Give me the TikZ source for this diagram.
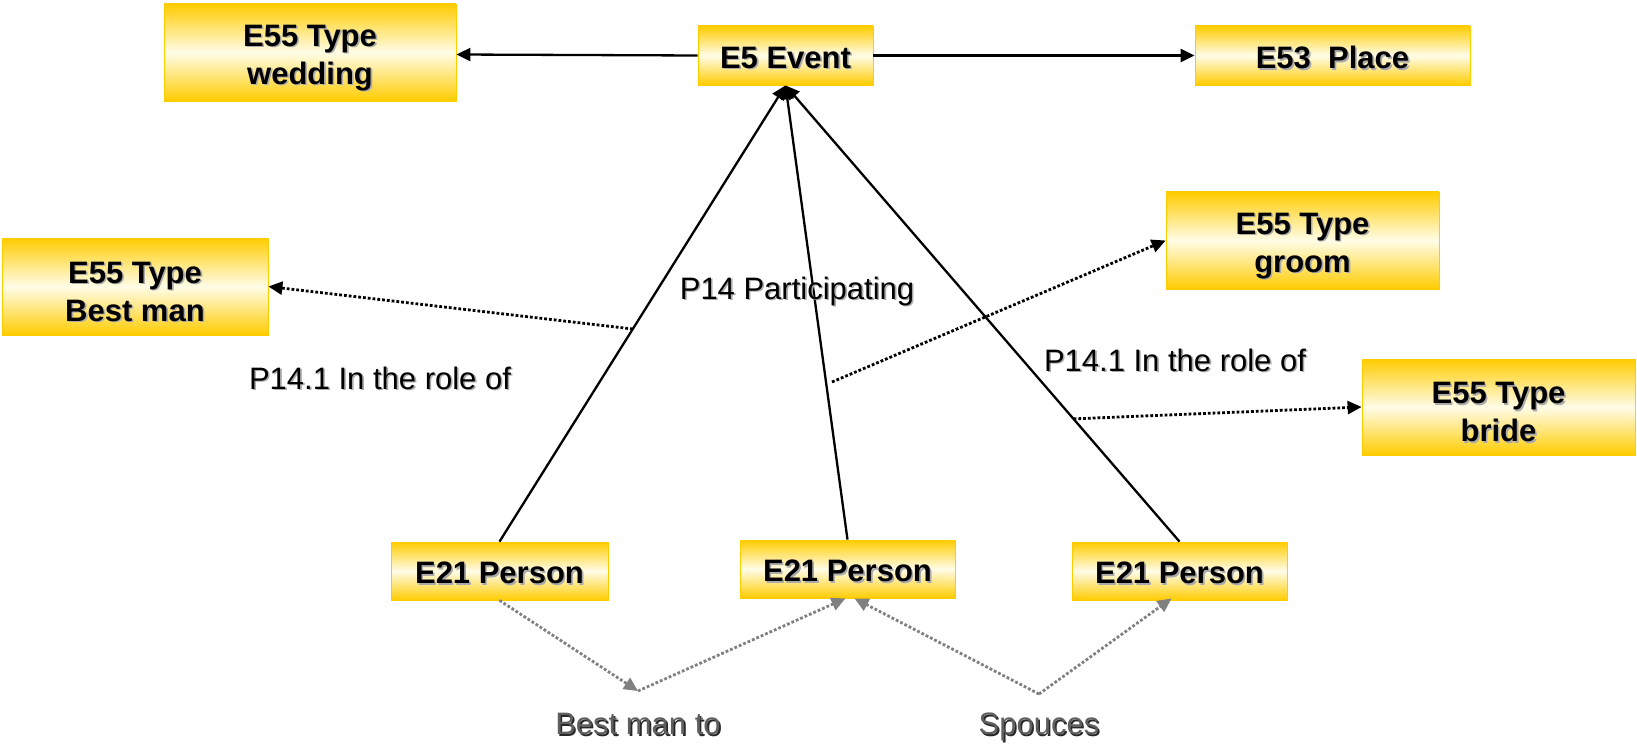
\documentclass[tikz,border=0pt]{standalone}
\usepackage{fontspec}
\setmainfont{Liberation Sans}
\usetikzlibrary{arrows.meta,calc}
\definecolor{gold}{RGB}{255,204,0}
\definecolor{paleband}{RGB}{255,252,232}
\definecolor{shadowgray}{RGB}{170,170,170}
\definecolor{linkgray}{RGB}{128,128,128}
\definecolor{labelgray}{RGB}{95,95,95}
\definecolor{darkshadow}{RGB}{40,40,40}
% text with a soft drop shadow, dropped by the optional amount
\newcommand{\shd}[2][3pt]{\leavevmode\raisebox{-#1}[\height][\depth]{%
  \rlap{\kern1.6pt\raisebox{-1.6pt}{\textcolor{shadowgray}{#2}}}#2}}
% grey text with a dark drop shadow
\newcommand{\gshd}[1]{\leavevmode\raisebox{-2pt}[\height][\depth]{%
  \rlap{\kern1.6pt\raisebox{-1.6pt}{\textcolor{darkshadow}{#1}}}\textcolor{labelgray}{#1}}}
\begin{document}
\begin{tikzpicture}[x=1pt,y=-1pt,
  entity/.style={draw=gold,line width=0.8pt,top color=gold,bottom color=gold,
    middle color=paleband,shading angle=0,align=center,inner sep=0pt,
    font=\fontsize{31}{38}\selectfont\bfseries},
  rel/.style={line width=2.3pt,-{Triangle[length=14pt,width=13pt]}},
  role/.style={line width=2.8pt,dotted,-{Triangle[length=14pt,width=13pt]}},
  link/.style={line width=2.8pt,dotted,draw=linkgray,
    -{Triangle[length=14pt,width=13pt,fill=linkgray]}},
  lbl/.style={font=\fontsize{31}{37}\selectfont,inner sep=0pt}]
\useasboundingbox (0,0) rectangle (1637,746);

% entities
\node[entity,minimum width=292pt,minimum height=97pt] (wedding) at (310,52.5) {\shd[6pt]{E55 Type}\\\shd[6pt]{wedding}};
\node[entity,minimum width=175pt,minimum height=59pt] (event) at (785.5,55.5) {\shd{E5 Event}};
\node[entity,minimum width=275pt,minimum height=59pt] (place) at (1332.5,55.5) {\shd{E53~~Place}};
\node[entity,minimum width=266pt,minimum height=97pt] (bestman) at (135,286.5) {\shd[6pt]{E55 Type}\\\shd[6pt]{Best man}};
\node[entity,minimum width=273pt,minimum height=97pt] (groom) at (1302.5,240.5) {\shd[6pt]{E55 Type}\\\shd[6pt]{groom}};
\node[entity,minimum width=273pt,minimum height=96pt] (bride) at (1498.5,407) {\shd[6pt]{E55 Type}\\\shd[6pt]{bride}};
\node[entity,minimum width=217pt,minimum height=58pt] (p1) at (499.5,571) {\shd{E21 Person}};
\node[entity,minimum width=215pt,minimum height=58pt] (p2) at (847.5,569) {\shd{E21 Person}};
\node[entity,minimum width=215pt,minimum height=58pt] (p3) at (1179.5,571) {\shd{E21 Person}};

% event links
\draw[rel] (event.west) -- ([yshift=-2pt]wedding.east);
\draw[rel] (event.east) -- (place.west);
\draw[rel] (p1.north) -- (event.south);
\draw[rel] (p2.north) -- (event.south);
\draw[rel] (p3.north) -- (event.south);

% role links starting from the participation lines
\coordinate (r1) at ($(p1.north)!0.466!(event.south)$);
\coordinate (r2) at ($(p2.north)!0.347!(event.south)+(6,0)$);
\coordinate (r3) at ($(p3.north)!0.269!(event.south)$);
\draw[role] (r1) -- (bestman.east);
\draw[role] (r2) -- (groom.west);
\draw[role] (r3) -- (bride.west);

% person-to-person links
\coordinate (bm) at (638,691);
\coordinate (sp) at (1039,694);
\draw[link] (p1.south) -- (bm);
\draw[link] (bm) -- ([xshift=-2pt]p2.south);
\draw[link] (sp) -- ([xshift=7pt]p2.south);
\draw[link] (sp) -- ([xshift=-8pt,yshift=2pt]p3.south);

% labels
\node[lbl] (lpart) at (797,292) {\shd[0pt]{P14 Participating}};
\node[lbl] (lrole1) at (380,379) {\shd[0pt]{P14.1 In the role of}};
\node[lbl] (lrole2) at (1175,361) {\shd[0pt]{P14.1 In the role of}};
\node[lbl] (lbm) at (638,723) {\gshd{Best man to}};
\node[lbl] (lsp) at (1039,726) {\gshd{Spouces}};
\end{tikzpicture}
\end{document}
